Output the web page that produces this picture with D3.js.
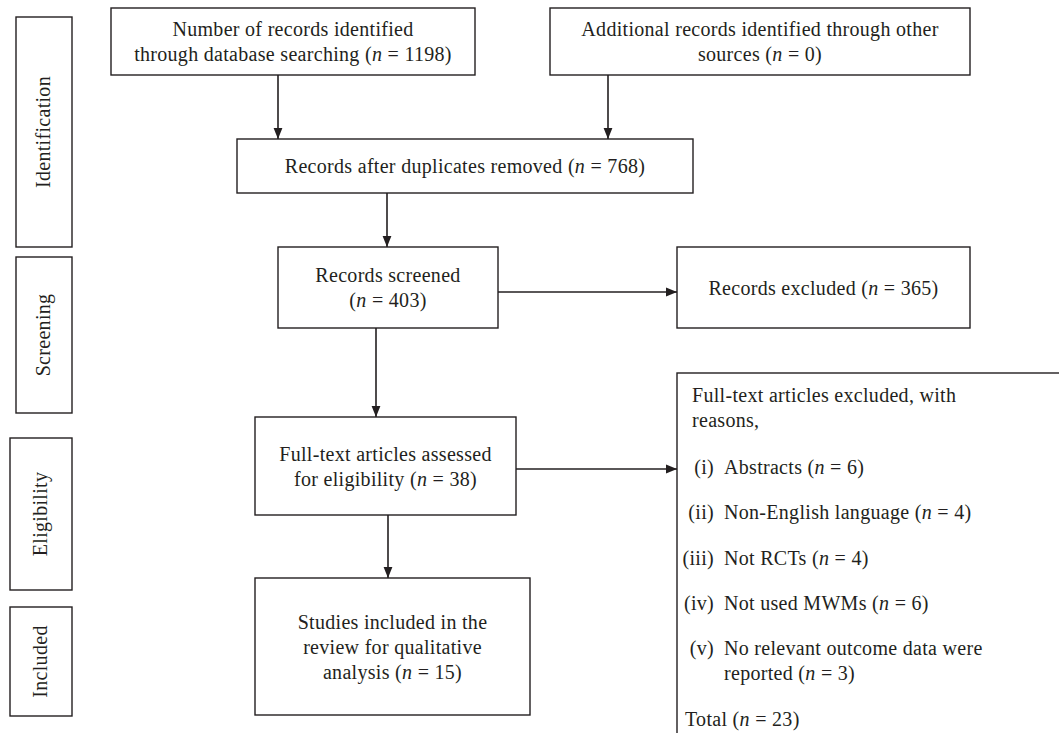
<!DOCTYPE html>
<html>
<head>
<meta charset="utf-8">
<script src="https://cdn.jsdelivr.net/npm/d3@7"></script>
<style>
  html, body { margin: 0; padding: 0; background: #fff; }
  svg text { font-family: "Liberation Serif", "DejaVu Serif", serif; fill: #231f20; letter-spacing: 0.3px; }
</style>
</head>
<body>
<svg id="flow"></svg>
<script>
/* PRISMA flow diagram */

// Phase labels (left column)
const stageNames = ['Identification', 'Screening', 'Eligibility', 'Included'];

// Flow boxes: text lines ({n} marks the count) and counts
const boxIds = ['database', 'other', 'dedup', 'screened', 'excluded', 'fulltext', 'included'];
const boxLines = [
    ['Number of records identified', 'through database searching ({n})'],
    ['Additional records identified through other', 'sources ({n})'],
    ['Records after duplicates removed ({n})'],
    ['Records screened', '({n})'],
    ['Records excluded ({n})'],
    ['Full-text articles assessed', 'for eligibility ({n})'],
    ['Studies included in the', 'review for qualitative', 'analysis ({n})']
];
const boxCounts = [1198, 0, 768, 403, 365, 38, 15];

// Reasons for exclusion of full-text articles
const reasonNumerals = ['(i)', '(ii)', '(iii)', '(iv)', '(v)'];
const reasonLines = [
    ['Abstracts ({n})'],
    ['Non-English language ({n})'],
    ['Not RCTs ({n})'],
    ['Not used MWMs ({n})'],
    ['No relevant outcome data were', 'reported ({n})']
];
const reasonCounts = [6, 4, 4, 6, 3];
const reasonTotal = 23;

// Arrows between boxes
const arrowLinks = [
    ['database', 'dedup', 'down'],
    ['other', 'dedup', 'down'],
    ['dedup', 'screened', 'down'],
    ['screened', 'excluded', 'right'],
    ['screened', 'fulltext', 'down'],
    ['fulltext', 'reasons', 'right'],
    ['fulltext', 'included', 'down']
];

(function() {
    'use strict';

    const width = 1059, height = 733;
    const fontSize = 20;
    const lineH = 25;
    const ink = '#231f20';

    // Geometry of the boxes (pixels)
    const stageBoxes = [
        { x: 16, y: 17, w: 56, h: 230 },
        { x: 16, y: 257, w: 56, h: 156 },
        { x: 10, y: 438, w: 62, h: 152 },
        { x: 10, y: 607, w: 62, h: 109 }
    ];
    const boxGeom = {
        database: { x: 111, y: 8, w: 364, h: 67 },
        other:    { x: 550, y: 8, w: 420, h: 67 },
        dedup:    { x: 237, y: 139, w: 456, h: 54 },
        screened: { x: 278, y: 247, w: 220, h: 81 },
        excluded: { x: 677, y: 247, w: 293, h: 81 },
        fulltext: { x: 255, y: 417, w: 261, h: 98 },
        included: { x: 255, y: 578, w: 275, h: 137 },
        reasons:  { x: 677, y: 373, w: 400, h: 380 }
    };
    // Arrow anchors (x of vertical arrows, y of horizontal arrows)
    const arrowX = { database: 278, other: 608, dedup: 387, screened: 376, fulltext: 388 };
    const arrowY = { screened: 292, fulltext: 469 };

    const svg = d3.select('#flow')
        .attr('width', width)
        .attr('height', height);

    svg.append('defs').append('marker')
        .attr('id', 'arrowhead')
        .attr('viewBox', '0 0 10 10')
        .attr('refX', 10)
        .attr('refY', 5)
        .attr('markerWidth', 11)
        .attr('markerHeight', 11)
        .attr('markerUnits', 'userSpaceOnUse')
        .attr('orient', 'auto')
        .append('path')
        .attr('d', 'M0,1 L10,5 L0,9 Z')
        .attr('fill', ink);

    /**
     * Write one line of text, with an italic n for the count
     */
    function richLine(sel, str, count) {
        const parts = str.split('{n}');
        sel.append('tspan').text(parts[0]);
        if (parts.length > 1) {
            sel.append('tspan').style('font-style', 'italic').text('n');
            sel.append('tspan').text(' = ' + count + parts[1]);
        }
    }

    // Stage labels
    const stages = svg.append('g').selectAll('g')
        .data(stageNames)
        .enter()
        .append('g');

    stages.append('rect')
        .attr('x', (d, i) => stageBoxes[i].x)
        .attr('y', (d, i) => stageBoxes[i].y)
        .attr('width', (d, i) => stageBoxes[i].w)
        .attr('height', (d, i) => stageBoxes[i].h)
        .attr('fill', 'none')
        .attr('stroke', ink)
        .attr('stroke-width', 1.4);

    stages.append('text')
        .attr('transform', (d, i) => {
            const b = stageBoxes[i];
            return `translate(${b.x + b.w / 2 + 6}, ${b.y + b.h / 2}) rotate(-90)`;
        })
        .attr('text-anchor', 'middle')
        .style('font-size', fontSize + 'px')
        .text(d => d);

    // Arrows (drawn before boxes)
    const arrows = svg.append('g');
    arrowLinks.forEach(([from, to, dir]) => {
        const a = boxGeom[from], b = boxGeom[to];
        let x1, y1, x2, y2;
        if (dir === 'down') {
            x1 = x2 = arrowX[from];
            y1 = a.y + a.h;
            y2 = b.y;
        } else {
            y1 = y2 = arrowY[from];
            x1 = a.x + a.w;
            x2 = b.x;
        }
        arrows.append('line')
            .attr('x1', x1).attr('y1', y1)
            .attr('x2', x2).attr('y2', y2)
            .attr('stroke', ink)
            .attr('stroke-width', 1.6)
            .attr('marker-end', 'url(#arrowhead)');
    });

    // Flow boxes
    boxIds.forEach((id, i) => {
        const b = boxGeom[id];
        const g = svg.append('g').attr('class', 'box');
        g.append('rect')
            .attr('x', b.x).attr('y', b.y)
            .attr('width', b.w).attr('height', b.h)
            .attr('fill', '#fff')
            .attr('stroke', ink)
            .attr('stroke-width', 1.4);

        const lines = boxLines[i];
        const cy = b.y + b.h / 2;
        const y0 = cy - (lines.length - 1) * lineH / 2;
        lines.forEach((line, j) => {
            const t = g.append('text')
                .attr('x', b.x + b.w / 2)
                .attr('y', y0 + j * lineH)
                .attr('dy', '0.35em')
                .attr('text-anchor', 'middle')
                .style('font-size', fontSize + 'px');
            richLine(t, line, boxCounts[i]);
        });
    });

    // Exclusion reasons box (open at the bottom and right)
    const r = boxGeom.reasons;
    const rg = svg.append('g');
    rg.append('rect')
        .attr('x', r.x).attr('y', r.y)
        .attr('width', r.w).attr('height', r.h)
        .attr('fill', '#fff')
        .attr('stroke', ink)
        .attr('stroke-width', 1.4);

    const headY = 395;
    ['Full-text articles excluded, with', 'reasons,'].forEach((line, j) => {
        rg.append('text')
            .attr('x', 692)
            .attr('y', headY + j * lineH)
            .attr('dy', '0.35em')
            .style('font-size', fontSize + 'px')
            .text(line);
    });

    const reasonY = d3.scaleBand()
        .domain(reasonNumerals)
        .range([444, 444 + 45.3 * 5]);

    reasonNumerals.forEach((num, i) => {
        const y = reasonY(num) + 23;
        rg.append('text')
            .attr('x', 714)
            .attr('y', y)
            .attr('dy', '0.35em')
            .attr('text-anchor', 'end')
            .style('font-size', fontSize + 'px')
            .text(num);
        reasonLines[i].forEach((line, j) => {
            const t = rg.append('text')
                .attr('x', 724)
                .attr('y', y + j * lineH)
                .attr('dy', '0.35em')
                .style('font-size', fontSize + 'px');
            richLine(t, line, reasonCounts[i]);
        });
    });

    const tot = rg.append('text')
        .attr('x', 685)
        .attr('y', 719)
        .attr('dy', '0.35em')
        .style('font-size', fontSize + 'px');
    richLine(tot, 'Total ({n})', reasonTotal);
})();
</script>
</body>
</html>
